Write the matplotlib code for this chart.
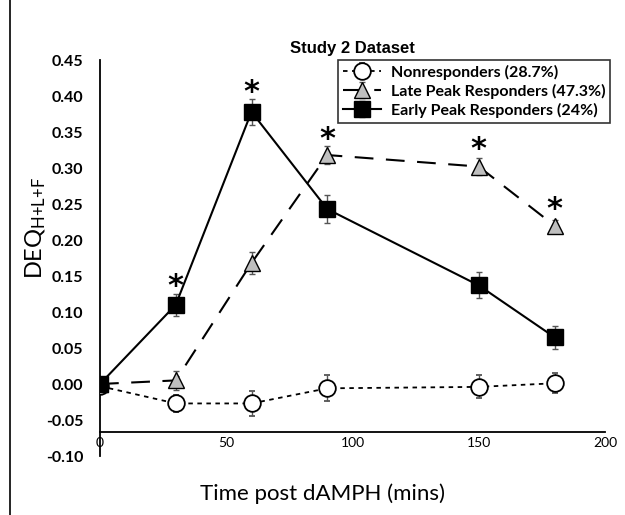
import matplotlib
matplotlib.use("Agg")
import matplotlib.pyplot as plt
from matplotlib.lines import Line2D

time = [0, 30, 60, 90, 150, 180]

non_vals = [-0.003, -0.027, -0.027, -0.006, -0.004, 0.001]
non_err = [0.0, 0.012, 0.017, 0.018, 0.016, 0.014]

late_vals = [0.0, 0.005, 0.168, 0.318, 0.302, 0.220]
late_err = [0.0, 0.013, 0.015, 0.013, 0.012, 0.008]

early_vals = [0.0, 0.110, 0.378, 0.243, 0.137, 0.065]
early_err = [0.0, 0.015, 0.018, 0.020, 0.018, 0.016]

star_x = [30, 60, 90, 150, 180]
star_y = [0.135, 0.405, 0.340, 0.325, 0.243]

labels = ["Nonresponders (28.7%)", "Late Peak Responders (47.3%)", "Early Peak Responders (24%)"]
yticks = [-0.10, -0.05, 0.00, 0.05, 0.10, 0.15, 0.20, 0.25, 0.30, 0.35, 0.40, 0.45]
xticks = [0, 50, 100, 150, 200]

plt.rcParams['font.family'] = ['Lato', 'DejaVu Sans']

fig = plt.figure(figsize=(6.25, 5.15), dpi=100)
ax = fig.add_axes([100/625, 59/515, 505/625, 396/515])

ekw = dict(ecolor='#555555', elinewidth=1, capsize=2.5, capthick=1)
ax.errorbar(time, non_vals, yerr=non_err, color='black', ls=(0, (2.5, 2.5)), lw=1.3,
            marker='o', ms=12, mfc='white', mec='black', mew=1.3, label=labels[0], zorder=3, **ekw)
ax.errorbar(time, late_vals, yerr=late_err, color='black', ls=(0, (9, 6)), lw=1.5,
            marker='^', ms=12, mfc='#bfbfbf', mec='black', mew=1.0, label=labels[1], zorder=4, **ekw)
ax.errorbar(time, early_vals, yerr=early_err, color='black', ls='-', lw=1.5,
            marker='s', ms=11.5, mfc='black', mec='black', mew=1.0, label=labels[2], zorder=5, **ekw)

for sx, sy in zip(star_x, star_y):
    ax.text(sx, sy, "*", ha='center', va='center', fontsize=22, fontweight='bold',
            family=['DejaVu Sans'])

ax.set_xlim(0, 200)
ax.set_ylim(-0.10, 0.45)
ax.set_xticks(xticks)
ax.set_xticklabels([str(v) for v in xticks])
ax.set_yticks(yticks)
ax.set_yticklabels([f"{v:.2f}" for v in yticks])
for lab in ax.get_xticklabels() + ax.get_yticklabels():
    lab.set_fontweight('bold')
    lab.set_fontsize(11.5)
ax.tick_params(axis='both', length=0)
ax.tick_params(axis='y', pad=12)
ax.tick_params(axis='x', pad=3.5)

for s in ['top', 'right']:
    ax.spines[s].set_visible(False)
ax.spines['bottom'].set_position(('data', -0.067))
ax.spines['left'].set_linewidth(1.3)
ax.spines['bottom'].set_linewidth(1.3)

ax.set_title("Study 2 Dataset", fontsize=12, fontweight='bold', family=['Liberation Sans'], pad=5)
fig.text(322/625, 1 - 494/515, "Time post dAMPH (mins)", ha='center', va='center', fontsize=16)
fig.text(36/625, 1 - 228/515, r"$\mathregular{DEQ_{H{+}L{+}F}}$", ha='center', va='center',
         rotation=90, fontsize=17)

leg = ax.legend(loc='upper right', bbox_to_anchor=(1.026, 1.02), frameon=True, fancybox=False,
                edgecolor='black', prop={'weight': 'bold', 'size': 11.5},
                handlelength=2.4, borderpad=0.3, labelspacing=0.25, handletextpad=0.6)
leg.get_frame().set_linewidth(1.2)

fig.add_artist(Line2D([10/625, 10/625], [0, 1], color='black', lw=1.2, transform=fig.transFigure))

fig.savefig("out.png", dpi=100)
